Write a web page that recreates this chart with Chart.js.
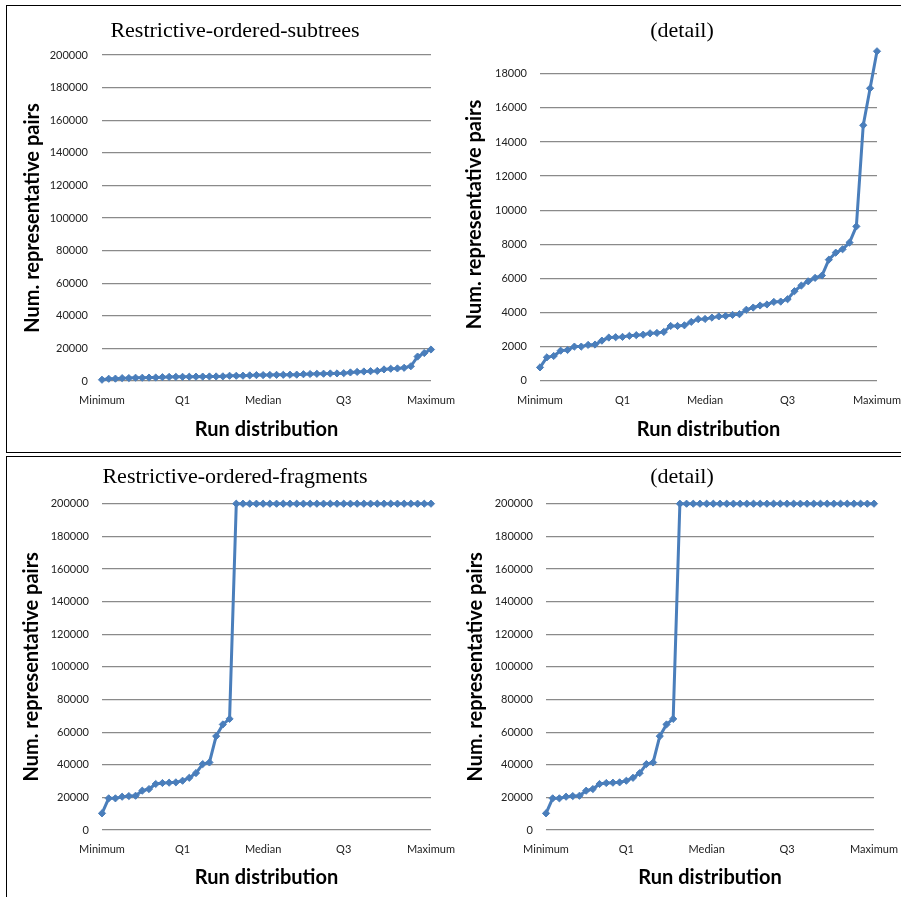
<!DOCTYPE html>
<html>
<head>
<meta charset="utf-8">
<script src="https://cdn.jsdelivr.net/npm/chart.js@4.4.1/dist/chart.umd.min.js"></script>
<style>
  html, body { margin: 0; padding: 0; background: #fff; }
  body { width: 901px; height: 897px; position: relative; overflow: hidden; }
  .panel { position: absolute; border: 1.5px solid #000; box-sizing: border-box; }
  canvas { position: absolute; }
</style>
</head>
<body>
<div class="panel" style="left:6px;top:5px;width:920px;height:448px"></div>
<div class="panel" style="left:6px;top:456px;width:920px;height:460px"></div>

<canvas id="subtrees" width="483" height="443" style="left:8px;top:8px"></canvas>
<canvas id="subtreesDetail" width="482" height="443" style="left:455px;top:8px"></canvas>
<canvas id="fragments" width="483" height="438" style="left:8px;top:459px"></canvas>
<canvas id="fragmentsDetail" width="479" height="438" style="left:455px;top:459px"></canvas>

<script>
// Sorted run results: number of representative pairs per run
const subtreePairs = [780, 1370, 1450, 1760, 1800, 2000, 2000, 2100, 2120, 2350,
  2530, 2550, 2570, 2630, 2670, 2700, 2780, 2800, 2860, 3210,
  3210, 3250, 3450, 3610, 3620, 3700, 3770, 3800, 3860, 3900,
  4160, 4290, 4410, 4470, 4620, 4640, 4780, 5250, 5580, 5830,
  6030, 6170, 7100, 7510, 7710, 8100, 9050, 14980, 17150, 19320];

const fragmentPairs = [10200, 19400, 19400, 20400, 20800, 21000, 24100, 25100, 28200, 28800,
  29000, 29200, 30200, 32000, 34900, 40400, 41400, 57500, 64700, 68100,
  200000, 200000, 200000, 200000, 200000, 200000, 200000, 200000, 200000, 200000,
  200000, 200000, 200000, 200000, 200000, 200000, 200000, 200000, 200000, 200000,
  200000, 200000, 200000, 200000, 200000, 200000, 200000, 200000, 200000, 200000];

// Category axis: one slot per run, labelled at the quartile positions
const runSlots = subtreePairs.map((_, i) => i);
const quartileNames = ['Minimum', 'Q1', 'Median', 'Q3', 'Maximum'];
const quartileSlots = [0, 12, 24, 36, 49];

// Value axis ticks
const overviewTicks = [0, 20000, 40000, 60000, 80000, 100000, 120000, 140000, 160000, 180000, 200000];
const detailTicks = [0, 2000, 4000, 6000, 8000, 10000, 12000, 14000, 16000, 18000];

const panelTitles = ['Restrictive-ordered-subtrees', '(detail)', 'Restrictive-ordered-fragments', '(detail)'];
const yAxisTitle = 'Num. representative pairs';
const xAxisTitle = 'Run distribution';

const lineBlue = '#4a7ebb';
const gridGray = '#8a8a8a';

// Draws the panel heading at a fixed spot above the plot
const panelTitle = {
  id: 'panelTitle',
  afterDraw(chart, args, o) {
    const ctx = chart.ctx;
    ctx.save();
    ctx.font = '22px "Liberation Serif", "Times New Roman", serif';
    ctx.fillStyle = '#000';
    ctx.textAlign = 'center';
    ctx.textBaseline = 'middle';
    ctx.fillText(o.text, o.x, o.y);
    ctx.restore();
  }
};

// g: page geometry of the panel (canvas box, plot area, text centres)
function makeChart(id, values, title, yMax, yTicks, g) {
  const tickFont = { family: 'Lato', size: 11 };
  const axisFont = { family: 'Lato', size: 20, weight: 'bold', lineHeight: 1.2 };
  const axisHalf = 20 * 1.2 / 2;
  return new Chart(document.getElementById(id), {
    type: 'line',
    data: {
      labels: runSlots,
      datasets: [{
        data: values,
        borderColor: lineBlue,
        backgroundColor: lineBlue,
        borderWidth: 3,
        pointStyle: 'rectRot',
        pointRadius: 3.6,
        pointBorderWidth: 1,
        pointBackgroundColor: lineBlue,
        pointBorderColor: lineBlue,
        tension: 0,
        clip: false
      }]
    },
    options: {
      responsive: false,
      animation: false,
      events: [],
      layout: {
        autoPadding: false,
        padding: { top: g.t - g.y, right: g.x + g.w - g.r, bottom: 0, left: 0 }
      },
      plugins: {
        legend: { display: false },
        tooltip: { enabled: false },
        panelTitle: { text: title, x: g.titleX - g.x, y: g.titleY - g.y }
      },
      scales: {
        x: {
          type: 'category',
          offset: false,
          grid: { display: false, drawTicks: false },
          border: { display: false },
          ticks: {
            autoSkip: false,
            maxRotation: 0,
            padding: g.xTickY - g.b - 6.6,
            color: '#222',
            font: tickFont,
            callback: (v, i) => {
              const k = quartileSlots.indexOf(i);
              return k >= 0 ? quartileNames[k] : '';
            }
          },
          title: {
            display: true,
            text: xAxisTitle,
            color: '#000',
            font: axisFont,
            padding: { top: 0, bottom: (g.y + g.h) - g.xTitleY - axisHalf }
          },
          afterFit: s => { s.height = g.y + g.h - g.b; }
        },
        y: {
          min: 0,
          max: yMax,
          grid: { color: gridGray, lineWidth: 1.2, drawTicks: false },
          border: { display: false },
          afterBuildTicks: s => { s.ticks = yTicks.map(v => ({ value: v })); },
          ticks: {
            padding: g.l - g.yTickR,
            color: '#222',
            font: tickFont,
            callback: v => String(v)
          },
          title: {
            display: true,
            text: yAxisTitle,
            color: '#000',
            font: axisFont,
            padding: { top: g.yTitleX - g.x - axisHalf, bottom: 0 }
          },
          afterFit: s => { s.width = g.l - g.x; }
        }
      }
    },
    plugins: [panelTitle]
  });
}

makeChart('subtrees', subtreePairs, panelTitles[0], 200000, overviewTicks,
  { x: 8, y: 8, w: 483, h: 443, l: 102, r: 431, t: 55, b: 381,
    titleX: 235, titleY: 31, yTitleX: 33, yTickR: 88, xTickY: 400, xTitleY: 430 });

makeChart('subtreesDetail', subtreePairs, panelTitles[1], 19500, detailTicks,
  { x: 455, y: 8, w: 482, h: 443, l: 540, r: 877, t: 48.2, b: 380.7,
    titleX: 682, titleY: 31, yTitleX: 475, yTickR: 527, xTickY: 400, xTitleY: 430 });

makeChart('fragments', fragmentPairs, panelTitles[2], 200000, overviewTicks,
  { x: 8, y: 459, w: 483, h: 438, l: 102, r: 431, t: 503.7, b: 830,
    titleX: 235, titleY: 477, yTitleX: 32, yTickR: 89, xTickY: 849, xTitleY: 878 });

makeChart('fragmentsDetail', fragmentPairs, panelTitles[3], 200000, overviewTicks,
  { x: 455, y: 459, w: 479, h: 438, l: 546, r: 874, t: 503.7, b: 830,
    titleX: 682, titleY: 477, yTitleX: 476, yTickR: 533, xTickY: 849, xTitleY: 878 });
</script>
</body>
</html>
